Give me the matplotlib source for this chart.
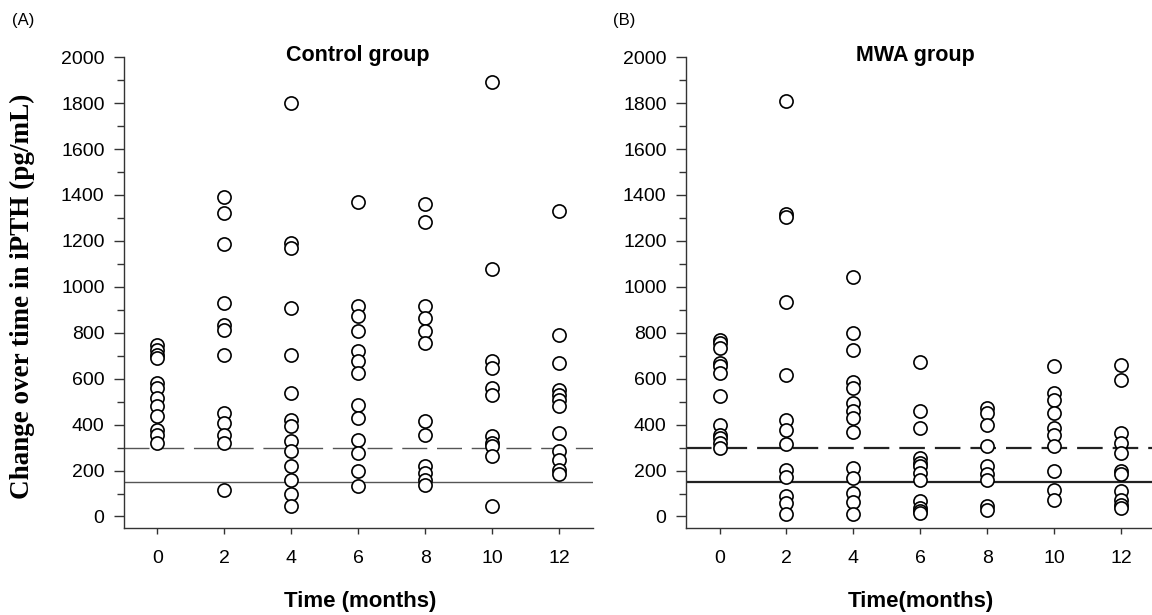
import numpy as np
import matplotlib
matplotlib.use('Agg')
import matplotlib.pyplot as plt
from matplotlib.ticker import MultipleLocator

plt.rcParams['font.family'] = ['Liberation Sans', 'DejaVu Sans']

# ------------------------------------------------------------
# data: change in iPTH (pg/mL) at each visit
# ------------------------------------------------------------
months = [0, 2, 4, 6, 8, 10, 12]

control_m0 = [748, 726, 704, 690, 581, 560, 516, 480, 436, 378, 357, 320]
control_m2 = [1393, 1320, 1187, 929, 835, 813, 704, 451, 407, 357, 320, 117]
control_m4 = [1799, 1190, 1168, 907, 704, 538, 422, 393, 328, 284, 219, 161, 96, 45]
control_m6 = [1371, 915, 871, 806, 719, 675, 625, 487, 429, 335, 277, 197, 132]
control_m8 = [1361, 1284, 915, 864, 806, 755, 414, 357, 219, 190, 161, 139]
control_m10 = [1893, 1077, 675, 646, 560, 530, 349, 320, 306, 262, 45]
control_m12 = [1332, 791, 668, 552, 530, 509, 480, 364, 284, 248, 204, 183]

mwa_m0 = [770, 755, 733, 668, 654, 625, 526, 400, 357, 342, 320, 299]
mwa_m2 = [1809, 1317, 1303, 936, 617, 422, 375, 317, 204, 173, 88, 60, 13]
mwa_m4 = [1045, 801, 723, 584, 560, 494, 458, 429, 367, 212, 168, 103, 62, 9]
mwa_m6 = [671, 458, 386, 255, 233, 219, 190, 161, 67, 38, 23, 16]
mwa_m8 = [472, 451, 400, 306, 219, 183, 161, 45, 30]
mwa_m10 = [657, 538, 509, 451, 386, 357, 306, 197, 117, 74]
mwa_m12 = [661, 596, 364, 320, 277, 197, 183, 110, 74, 52, 38]

control = [control_m0, control_m2, control_m4, control_m6,
           control_m8, control_m10, control_m12]
mwa = [mwa_m0, mwa_m2, mwa_m4, mwa_m6, mwa_m8, mwa_m10, mwa_m12]

upper_ref = 300
lower_ref = 150

# ------------------------------------------------------------
# figure
# ------------------------------------------------------------
fig = plt.figure(figsize=(11.52, 6.15), dpi=100)
ax_a = fig.add_axes([0.1076, 0.1415, 0.407, 0.7655])
ax_b = fig.add_axes([0.5955, 0.1415, 0.407, 0.7655])


def draw_panel(ax, groups, line_col, line_w, dash):
    for t, vals in zip(months, groups):
        ax.scatter([t] * len(vals), vals, s=90, facecolors='white',
                   edgecolors='black', linewidths=1.2, zorder=3)
    ax.axhline(upper_ref, color=line_col, lw=line_w, ls=(0, dash), zorder=2)
    ax.axhline(lower_ref, color=line_col, lw=line_w, zorder=2)
    ax.set_xlim(-1, 13)
    ax.set_ylim(-50, 2000)
    ax.set_xticks(months)
    ax.yaxis.set_major_locator(MultipleLocator(200))
    ax.yaxis.set_minor_locator(MultipleLocator(100))
    ax.spines['top'].set_visible(False)
    ax.spines['right'].set_visible(False)
    for s in ['left', 'bottom']:
        ax.spines[s].set_color('#333333')
        ax.spines[s].set_linewidth(1.0)
    ax.tick_params(axis='x', which='major', direction='out', length=4.5,
                   width=1.0, color='#333333', labelsize=14, pad=11)
    ax.tick_params(axis='y', which='major', direction='out', length=7,
                   width=1.0, color='#333333', labelsize=14, pad=7)
    ax.tick_params(axis='y', which='minor', direction='out', length=5,
                   width=1.0, color='#333333')


draw_panel(ax_a, control, '#555555', 1.0, (18, 7))
draw_panel(ax_b, mwa, '#222222', 1.6, (11.5, 4.5))

fig.text(358 / 1152, 1 - 55 / 615, 'Control group', ha='center', va='center',
         fontsize=15.5, fontweight='bold')
fig.text(915 / 1152, 1 - 55 / 615, 'MWA group', ha='center', va='center',
         fontsize=15.5, fontweight='bold')

fig.text(12 / 1152, 1 - 20 / 615, '(A)', ha='left', va='center', fontsize=12)
fig.text(613 / 1152, 1 - 20 / 615, '(B)', ha='left', va='center', fontsize=12)

fig.text(360 / 1152, 1 - 602 / 615, 'Time (months)', ha='center', va='center',
         fontsize=16, fontweight='bold')
fig.text(921 / 1152, 1 - 602 / 615, 'Time(months)', ha='center', va='center',
         fontsize=16, fontweight='bold')

fig.text(22 / 1152, 1 - 296 / 615, 'Change over time in iPTH (pg/mL)',
         rotation=90, ha='center', va='center', fontsize=19.5,
         fontweight='bold', family=['Liberation Serif', 'DejaVu Serif'])

plt.savefig('out.png', dpi=100)
